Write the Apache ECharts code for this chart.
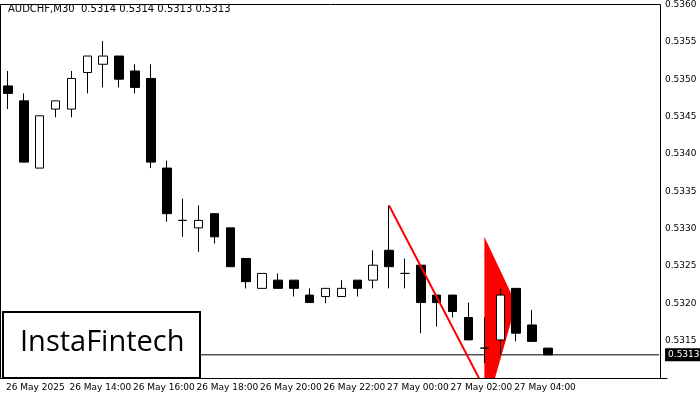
<!DOCTYPE html>
<html>
<head>
<meta charset="utf-8">
<script src="https://cdn.jsdelivr.net/npm/echarts@6/dist/echarts.min.js"></script>
<style>html,body{margin:0;padding:0;background:#fff}#chart{width:700px;height:400px}</style>
</head>
<body>
<div id="chart"></div>
<script>
// candles: [open, close, low, high]
const candles = [
    [0.53491, 0.53481, 0.53460, 0.53511],
    [0.53471, 0.53389, 0.53389, 0.53481],
    [0.53381, 0.53451, 0.53381, 0.53451],
    [0.53460, 0.53471, 0.53449, 0.53471],
    [0.53460, 0.53501, 0.53449, 0.53511],
    [0.53509, 0.53531, 0.53481, 0.53531],
    [0.53520, 0.53531, 0.53489, 0.53551],
    [0.53531, 0.53500, 0.53489, 0.53531],
    [0.53511, 0.53489, 0.53481, 0.53520],
    [0.53501, 0.53389, 0.53381, 0.53520],
    [0.53381, 0.53320, 0.53309, 0.53391],
    [0.53311, 0.53311, 0.53289, 0.53340],
    [0.53301, 0.53311, 0.53269, 0.53331],
    [0.53320, 0.53289, 0.53280, 0.53320],
    [0.53301, 0.53249, 0.53249, 0.53301],
    [0.53260, 0.53229, 0.53220, 0.53260],
    [0.53220, 0.53240, 0.53220, 0.53240],
    [0.53231, 0.53220, 0.53220, 0.53240],
    [0.53231, 0.53220, 0.53209, 0.53231],
    [0.53211, 0.53201, 0.53201, 0.53220],
    [0.53209, 0.53220, 0.53200, 0.53220],
    [0.53209, 0.53220, 0.53209, 0.53231],
    [0.53231, 0.53220, 0.53209, 0.53231],
    [0.53231, 0.53251, 0.53220, 0.53271],
    [0.53271, 0.53249, 0.53220, 0.53331],
    [0.53240, 0.53240, 0.53220, 0.53260],
    [0.53251, 0.53201, 0.53160, 0.53251],
    [0.53211, 0.53201, 0.53169, 0.53211],
    [0.53211, 0.53189, 0.53181, 0.53211],
    [0.53181, 0.53151, 0.53151, 0.53201],
    [0.53140, 0.53140, 0.53120, 0.53181],
    [0.53151, 0.53211, 0.53131, 0.53220],
    [0.53220, 0.53160, 0.53149, 0.53220],
    [0.53171, 0.53149, 0.53149, 0.53191],
    [0.53140, 0.53131, 0.53131, 0.53140]
];
const slotCount = 42;
const tickLabels = ['26 May 2025', '26 May 14:00', '26 May 16:00', '26 May 18:00', '26 May 20:00',
    '26 May 22:00', '27 May 00:00', '27 May 02:00', '27 May 04:00'];
const currentPrice = 0.53131;
const poleLine = [[24, 0.53331], [30, 0.53086]];
const flagShape = [[30, 0.53289], [31.7, 0.53199], [30, 0.53050]];

const categories = [];
for (let i = 0; i < slotCount; i++) categories.push(i);

const chart = echarts.init(document.getElementById('chart'));
chart.setOption({
    animation: false,
    grid: { left: -5, right: 33, top: 4, bottom: 22 },
    xAxis: {
        type: 'category',
        data: categories,
        boundaryGap: true,
        axisLine: { lineStyle: { color: '#000' } },
        axisTick: { show: false },
        axisLabel: {
            interval: 0,
            hideOverlap: false,
            showMinLabel: true,
            formatter: function (v, i) { return i % 4 === 0 ? (tickLabels[i / 4] || '') : ''; },
            color: '#000', fontSize: 9, fontFamily: 'DejaVu Sans', align: 'left', margin: 5,
            padding: [0, 0, 0, -2]
        },
        splitLine: { show: false }
    },
    yAxis: {
        type: 'value',
        position: 'right',
        min: 0.5310, max: 0.5360, interval: 0.0005,
        axisLine: { show: false },
        axisTick: { show: false },
        splitLine: { show: false },
        axisLabel: {
            showMinLabel: false,
            formatter: function (v) { return v.toFixed(4); },
            color: '#000', fontSize: 9, fontFamily: 'DejaVu Sans', margin: -2
        }
    },
    series: [
        {
            type: 'candlestick',
            data: candles,
            barWidth: 9,
            itemStyle: { color: '#fff', color0: '#000', borderColor: '#000', borderColor0: '#000', borderWidth: 1 }
        },
        {
            // current price line
            type: 'line',
            data: [[0, currentPrice], [slotCount - 1, currentPrice]],
            symbol: 'none',
            clip: false,
            lineStyle: { color: '#000', width: 1 },
            endLabel: {
                show: true, formatter: currentPrice.toFixed(4), color: '#fff',
                backgroundColor: '#000', padding: [2, 3], fontSize: 9, fontFamily: 'DejaVu Sans', distance: 6
            },
            z: 1
        },
        {
            type: 'line',
            data: poleLine,
            symbol: 'none',
            lineStyle: { color: '#ff0000', width: 2 },
            clip: true
        },
        {
            type: 'custom',
            clip: true,
            data: [0],
            renderItem: function (params, api) {
                return {
                    type: 'polygon',
                    shape: { points: flagShape.map(function (p) { return api.coord(p); }) },
                    style: { fill: '#ff0000' }
                };
            }
        }
    ],
    graphic: [
        { type: 'rect', shape: { x: 0.5, y: 4.5, width: 660, height: 374 }, style: { fill: 'none', stroke: '#000', lineWidth: 1 }, z: 10 },
        { type: 'text', left: 8, top: 4, style: { text: 'AUDCHF,M30  0.5314 0.5314 0.5313 0.5313', fill: '#000', font: '10px DejaVu Sans' }, z: 10 },
        { type: 'rect', shape: { x: 3, y: 312, width: 197, height: 66 }, style: { fill: '#fff', stroke: '#000', lineWidth: 2 }, z: 20 },
        { type: 'text', left: 20, top: 328, style: { text: 'InstaFintech', fill: '#000', font: '29px "Open Sans"' }, z: 21 }
    ]
});
</script>
</body>
</html>
